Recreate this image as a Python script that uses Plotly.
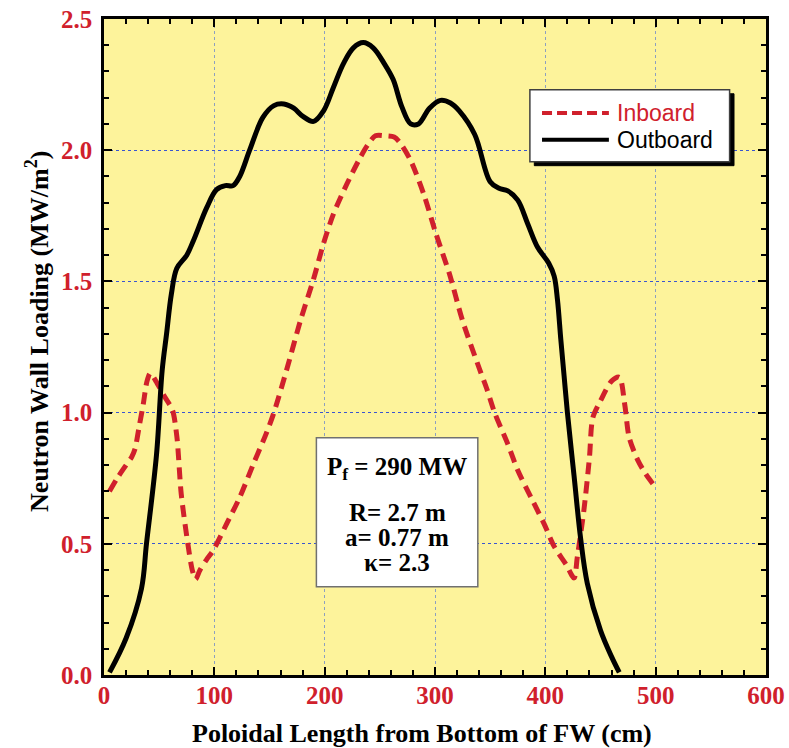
import plotly.graph_objects as go

# Outboard neutron wall loading (solid black)
outboard_x = [5, 20, 34, 38.5, 47.6, 52.7, 56.7, 61, 66, 75, 81, 93, 102, 110, 117, 123,
              132, 144, 154, 163, 172, 180, 190, 199, 208, 217, 226, 235, 244, 254, 262,
              270, 278, 285, 295, 305, 314, 322, 336, 350, 358, 366, 375, 384, 393, 403,
              408, 411, 414, 417, 420, 426, 432, 438, 450, 460, 467]
outboard_y = [0.01, 0.14, 0.33, 0.5, 0.84, 1.16, 1.30, 1.45, 1.55, 1.60, 1.655, 1.78, 1.85,
              1.865, 1.865, 1.90, 2.0, 2.125, 2.17, 2.176, 2.16, 2.13, 2.11, 2.15, 2.24, 2.33,
              2.39, 2.41, 2.39, 2.33, 2.27, 2.165, 2.10, 2.10, 2.16, 2.19, 2.18, 2.15, 2.06,
              1.88, 1.855, 1.845, 1.81, 1.72, 1.63, 1.57, 1.52, 1.43, 1.28, 1.14, 1.0, 0.76,
              0.52, 0.35, 0.17, 0.07, 0.01]

# Inboard neutron wall loading (dashed red)
inboard_x = [5, 12, 20, 25, 28, 32, 35.5, 39, 42, 47, 55, 62, 66, 70, 76, 80, 83, 87, 93, 99,
             111, 123, 135, 147, 154, 166, 178, 190, 199, 208, 220, 232, 239, 246, 255, 263,
             268, 278, 290, 301, 313, 325, 340, 347, 354, 366, 375, 387, 399, 408, 419, 426,
             429, 435, 440, 443, 450, 460, 467, 472, 476, 484, 491, 499]
inboard_y = [0.70, 0.75, 0.80, 0.83, 0.86, 0.95, 1.03, 1.12, 1.15, 1.12, 1.06, 1.01, 0.91,
             0.69, 0.50, 0.40, 0.365, 0.40, 0.44, 0.475, 0.575, 0.677, 0.80, 0.92, 1.0, 1.17,
             1.35, 1.51, 1.645, 1.757, 1.87, 1.97, 2.02, 2.055, 2.055, 2.05, 2.03, 1.96,
             1.83, 1.68, 1.53, 1.35, 1.17, 1.09, 1.0, 0.88, 0.78, 0.677, 0.575, 0.49, 0.42,
             0.37, 0.45, 0.63, 0.83, 0.98, 1.045, 1.12, 1.135, 1.03, 0.905, 0.817, 0.766, 0.72]

x_ticks = [0, 100, 200, 300, 400, 500, 600]
y_ticks = [0.0, 0.5, 1.0, 1.5, 2.0, 2.5]

param_lines = ["P<sub>f</sub> = 290 MW", "R= 2.7 m", "a= 0.77 m", "κ= 2.3"]
param_y = [0.786, 0.619, 0.524, 0.428]

RED = "#D0202C"
SERIF = "Liberation Serif, Times New Roman, serif"
SANS = "Liberation Sans, Arial, sans-serif"

fig = go.Figure()

fig.add_trace(go.Scatter(
    x=inboard_x, y=inboard_y, mode="lines", name="Inboard",
    line=dict(color=RED, width=5, dash="12px,7px", shape="spline", smoothing=0.8),
))
fig.add_trace(go.Scatter(
    x=outboard_x, y=outboard_y, mode="lines", name="Outboard",
    line=dict(color="black", width=5, shape="spline", smoothing=1.0),
))

axis_common = dict(
    showline=True, linecolor="black", linewidth=2.5, mirror="ticks",
    ticks="inside", ticklen=8, tickwidth=1.5, tickcolor="black",
    zeroline=False, showgrid=True, griddash="dot", gridwidth=1,
    tickfont=dict(family=SERIF, size=25, color=RED),
    automargin=False,
)

fig.update_xaxes(
    range=[0, 600], tickvals=x_ticks,
    ticktext=[f"<b>{v}</b>" for v in x_ticks],
    ticklabelstandoff=-4,
    gridcolor="#8C9FC0",
    minor=dict(dtick=20, ticks="inside", ticklen=5, tickwidth=1.5, tickcolor="black",
               showgrid=False),
    **axis_common,
)
fig.update_yaxes(
    range=[0, 2.5], tickvals=y_ticks,
    ticktext=[f"<b>{v:.1f}</b>" for v in y_ticks],
    ticklabelstandoff=4,
    gridcolor="#3A55D0",
    minor=dict(dtick=0.1, ticks="inside", ticklen=5, tickwidth=1.5, tickcolor="black",
               showgrid=False),
    **axis_common,
)

# axis titles (as annotations, they sit a bit off-centre in the original)
fig.add_annotation(xref="paper", yref="paper", x=0.481, y=0, yshift=-58,
                   xanchor="center", yanchor="middle",
                   text="<b>Poloidal Length from Bottom of FW (cm)</b>", showarrow=False,
                   font=dict(family=SERIF, size=26, color="black"))
fig.add_annotation(xref="paper", yref="paper", x=0, xshift=-66, y=0.523,
                   xanchor="center", yanchor="middle",
                   text="<b>Neutron Wall Loading (MW/m<sup>2</sup>)</b>", showarrow=False,
                   textangle=-90, font=dict(family=SERIF, size=26, color="black"))

# parameter box
fig.add_shape(type="rect", x0=192.5, x1=338.8, y0=0.336, y1=0.904,
              fillcolor="white", line=dict(color="#707070", width=1.5), layer="above")
for txt, yy in zip(param_lines, param_y):
    fig.add_annotation(x=265.6, y=yy, text=f"<b>{txt}</b>", showarrow=False,
                       font=dict(family=SERIF, size=25, color="black"))

# legend box with drop shadow
fig.add_shape(type="rect", x0=390, x1=571, y0=1.941, y1=2.215,
              fillcolor="black", line=dict(color="black", width=1), layer="above")
fig.add_shape(type="rect", x0=386, x1=567, y0=1.956, y1=2.23,
              fillcolor="white", line=dict(color="#404040", width=1.5), layer="above")
fig.add_shape(type="line", x0=397, x1=457.6, y0=2.142, y1=2.142,
              line=dict(color=RED, width=4, dash="10px,5px"), layer="above")
fig.add_shape(type="line", x0=397, x1=457.6, y0=2.04, y1=2.04,
              line=dict(color="black", width=4), layer="above")
fig.add_annotation(x=463, y=2.142, text="Inboard", showarrow=False, xanchor="left",
                   font=dict(family=SANS, size=23, color=RED))
fig.add_annotation(x=463, y=2.04, text="Outboard", showarrow=False, xanchor="left",
                   font=dict(family=SANS, size=23, color="black"))

fig.update_layout(
    width=789, height=748,
    margin=dict(l=104, r=23, t=19, b=73),
    plot_bgcolor="#FDF39B", paper_bgcolor="white",
    showlegend=False,
)

# drop the default page margin so the figure sits at the window's corner
fig.write_html("out.html", config={"displayModeBar": False},
               post_script="document.body.style.margin='0';")
